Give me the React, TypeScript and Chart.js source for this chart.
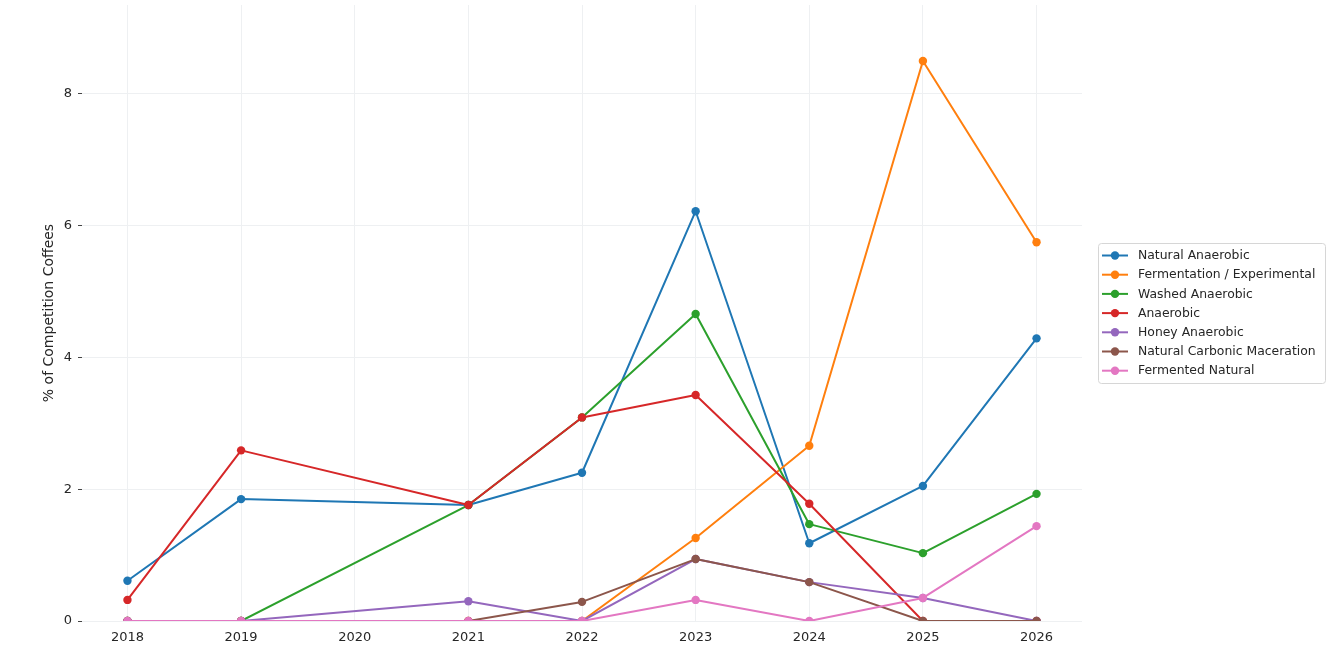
import React, { useEffect, useRef } from 'react';
import { Chart, registerables } from 'chart.js';

Chart.register(...registerables);

const years = [2018, 2019, 2021, 2022, 2023, 2024, 2025, 2026];

const seriesLabels = [
  'Natural Anaerobic',
  'Fermentation / Experimental',
  'Washed Anaerobic',
  'Anaerobic',
  'Honey Anaerobic',
  'Natural Carbonic Maceration',
  'Fermented Natural',
];

const naturalAnaerobic = [0.61, 1.85, 1.76, 2.25, 6.22, 1.18, 2.05, 4.29];
const fermentationExperimental = [0, 0, 0, 0, 1.26, 2.66, 8.5, 5.75];
const washedAnaerobic = [0, 0, 1.76, 3.09, 4.66, 1.47, 1.03, 1.93];
const anaerobic = [0.32, 2.59, 1.76, 3.09, 3.43, 1.78, 0, 0];
const honeyAnaerobic = [0, 0, 0.3, 0, 0.94, 0.59, 0.35, 0];
const naturalCarbonic = [0, 0, 0, 0.29, 0.94, 0.59, 0, 0];
const fermentedNatural = [0, 0, 0, 0, 0.32, 0, 0.35, 1.44];

const seriesValues = [
  naturalAnaerobic,
  fermentationExperimental,
  washedAnaerobic,
  anaerobic,
  honeyAnaerobic,
  naturalCarbonic,
  fermentedNatural,
];

const colors = ['#1f77b4', '#ff7f0e', '#2ca02c', '#d62728', '#9467bd', '#8c564b', '#e377c2'];

const FONT = '"DejaVu Sans", sans-serif';
const TEXT = '#262626';

// legend drawn like matplotlib's boxed legend on the right
const boxLegend = {
  id: 'boxLegend',
  afterDraw(chart: Chart) {
    const ctx = chart.ctx;
    const x = 1098, y = 243, w = 227, h = 140;
    ctx.save();
    ctx.beginPath();
    ctx.roundRect(x + 0.5, y + 0.5, w, h, 3);
    ctx.fillStyle = 'rgba(255,255,255,0.8)';
    ctx.fill();
    ctx.strokeStyle = '#d6d6d6';
    ctx.lineWidth = 1;
    ctx.stroke();
    ctx.font = `12.4px ${FONT}`;
    ctx.textBaseline = 'middle';
    chart.data.datasets.forEach((ds: any, i: number) => {
      const cy = y + 12.5 + i * 19.2;
      ctx.strokeStyle = ds.borderColor;
      ctx.lineWidth = 2;
      ctx.beginPath();
      ctx.moveTo(x + 4, cy);
      ctx.lineTo(x + 30, cy);
      ctx.stroke();
      ctx.fillStyle = ds.borderColor;
      ctx.beginPath();
      ctx.arc(x + 17, cy, 4.2, 0, Math.PI * 2);
      ctx.fill();
      ctx.fillStyle = TEXT;
      ctx.fillText(ds.label, x + 40, cy + 0.5);
    });
    ctx.restore();
  },
};

const App: React.FC = () => {
  const canvasRef = useRef<HTMLCanvasElement>(null);
  const chartRef = useRef<Chart>();

  useEffect(() => {
    if (!canvasRef.current) return;
    const ctx = canvasRef.current.getContext('2d');
    if (!ctx) return;
    if (chartRef.current) chartRef.current.destroy();

    const n = seriesLabels.length;
    chartRef.current = new Chart(ctx, {
      type: 'line',
      data: {
        datasets: seriesLabels.map((label, i) => ({
          label,
          data: years.map((yr, j) => ({ x: yr, y: seriesValues[i][j] })),
          borderColor: colors[i],
          backgroundColor: colors[i],
          borderWidth: 2,
          pointRadius: 4.2,
          pointBorderWidth: 0,
          pointBackgroundColor: colors[i],
          borderJoinStyle: 'round',
          tension: 0,
          clip: 0,
          order: n - 1 - i,
        })),
      },
      options: {
        animation: false,
        responsive: true,
        maintainAspectRatio: false,
        layout: { padding: { top: 5, right: 251, left: 0, bottom: 0 } },
        plugins: {
          legend: { display: false },
          tooltip: { enabled: false },
        },
        scales: {
          x: {
            type: 'linear',
            min: 2017.6,
            max: 2026.4,
            afterFit: (s: any) => {
              s.height = 33;
              s.paddingLeft = 0;
              s.paddingRight = 0;
            },
            border: { display: false },
            grid: { color: '#eef0f2', drawTicks: false, lineWidth: 1 },
            ticks: {
              stepSize: 1,
              includeBounds: false,
              padding: 9,
              color: TEXT,
              font: { family: FONT, size: 13 },
              callback: (v: any) => String(v),
            },
          },
          y: {
            type: 'linear',
            min: 0,
            max: 9.35,
            afterFit: (s: any) => {
              s.width = 82;
              s.paddingTop = 0;
              s.paddingBottom = 0;
            },
            border: { display: false },
            grid: { color: '#eef0f2', drawTicks: true, tickLength: 4, tickColor: '#444', lineWidth: 1 },
            ticks: {
              stepSize: 2,
              includeBounds: false,
              padding: 6,
              color: TEXT,
              font: { family: FONT, size: 13 },
            },
            title: {
              display: true,
              text: '% of Competition Coffees',
              color: TEXT,
              font: { family: FONT, size: 14 },
              padding: { top: 41, bottom: 0 },
            },
          },
        },
      },
      plugins: [boxLegend],
    });

    return () => {
      if (chartRef.current) {
        chartRef.current.destroy();
        chartRef.current = undefined;
      }
    };
  }, []);

  return (
    <div style={{ position: 'fixed', left: 0, top: 0, width: '1333px', height: '654px', background: '#fff' }}>
      <canvas ref={canvasRef} />
    </div>
  );
};

export default App;
